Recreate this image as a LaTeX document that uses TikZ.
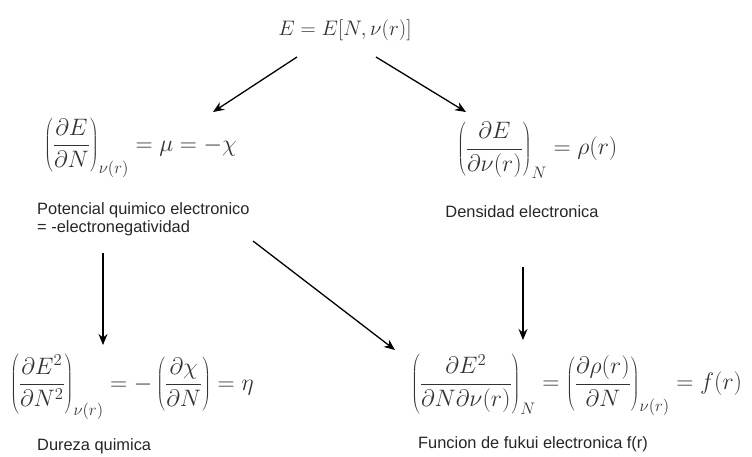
\RequirePackage{fix-cm}
\documentclass[tikz,border=0pt]{standalone}
\usepackage{fontspec}
\newfontfamily\labfont{Liberation Sans}
\usetikzlibrary{arrows.meta}
\begin{document}
\begin{tikzpicture}[x=1pt,y=-1pt,
  mathnode/.style={inner sep=0pt,text=black!80,font=\fontsize{23.8}{28}\selectfont},
  topmath/.style={inner sep=0pt,text=black!80,font=\fontsize{21}{25}\selectfont},
  lab/.style={inner sep=0pt,text=black!85,font=\labfont\fontsize{16.4}{18}\selectfont,align=left},
  arr/.style={line width=1.3pt,-{Stealth[length=11pt,width=9pt]}}]
\useasboundingbox (0,0) rectangle (752,457);
\node[topmath] (top) at (345,30) {$E=E[N,\nu(r)]$};
\node[mathnode,anchor=west] (lf) at (44,148) {$\displaystyle \left(\frac{\partial E}{\partial N}\right)_{\nu(r)}=\mu=-\chi$};
\node[mathnode,anchor=west] (rf) at (457,150) {$\displaystyle \left(\frac{\partial E}{\partial \nu(r)}\right)_{N}=\rho(r)$};
\node[lab,anchor=west] (pot) at (37,219) {Potencial quimico electronico\\= -electronegatividad};
\node[lab] (dens) at (522,212) {Densidad electronica};
\node[mathnode,anchor=west] (bl) at (10,387) {$\displaystyle \left(\frac{\partial E^2}{\partial N^2}\right)_{\nu(r)}=-\left(\frac{\partial \chi}{\partial N}\right)=\eta$};
\node[mathnode,anchor=west] (br) at (411,385) {$\displaystyle \left(\frac{\partial E^2}{\partial N\partial \nu(r)}\right)_{N}=\left(\frac{\partial \rho(r)}{\partial N}\right)_{\nu(r)}=f(r)$};
\node[lab,anchor=west] (dur) at (37,446) {Dureza quimica};
\node[lab,anchor=west] (fuk) at (418,444) {Funcion de fukui electronica f(r)};
\draw[arr] ([shift={(-48,27)}]top.center) -- ([shift={(169,-36)}]lf.west);
\draw[arr] ([shift={(31,27)}]top.center) -- ([shift={(9,-38)}]rf.west);
\draw[arr] ([shift={(66,34)}]pot.west) -- ([shift={(93,-42)}]bl.west);
\draw[arr] ([shift={(216,22)}]pot.west) -- ([shift={(-16,-35)}]br.west);
\draw[arr] ([shift={(1,55)}]dens.center) -- ([shift={(112,-45)}]br.west);
\end{tikzpicture}
\end{document}
